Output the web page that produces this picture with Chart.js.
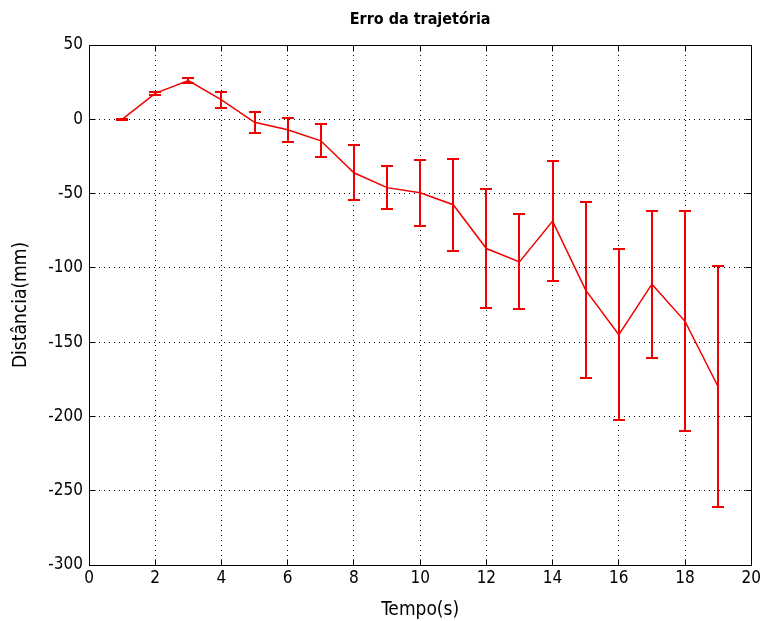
<!DOCTYPE html>
<html>
<head>
<meta charset="utf-8">
<title>Erro da trajetória</title>
<script src="https://cdn.jsdelivr.net/npm/chart.js@4.4.1/dist/chart.umd.min.js"></script>
<style>
  html, body { margin: 0; padding: 0; background: #fff; }
  canvas { display: block; }
</style>
</head>
<body>
<canvas id="grafico" width="764" height="621"></canvas>
<script>
// dados
const tempo = [1, 2, 3, 4, 5, 6, 7, 8, 9, 10, 11, 12, 13, 14, 15, 16, 17, 18, 19];
const distancia = [0, 17.5, 26, 13, -2, -7, -14.5, -36, -46, -49.5, -57.5, -87, -96, -68.5, -115, -145, -111, -136, -180];
const erro = [0.5, 1, 1.5, 5.5, 7, 8, 11, 18.5, 14.5, 22, 31, 40, 32, 40.5, 59, 57.5, 49.5, 74, 81];

const titulo = "Erro da trajetória";
const rotuloX = "Tempo(s)";
const rotuloY = "Distância(mm)";

const FONTE = "'DejaVu Sans Condensed', 'Liberation Sans Narrow', 'Liberation Sans', Arial, sans-serif";
const VERMELHO = "#f00000";

const alinhar = v => Math.floor(v) + 0.5;

// barras de erro com "chapéus"
const barrasErro = {
  id: "barrasErro",
  afterDatasetsDraw(chart) {
    const { ctx, scales: { x, y } } = chart;
    ctx.save();
    ctx.strokeStyle = VERMELHO;
    ctx.lineWidth = 2;
    for (let i = 0; i < tempo.length; i++) {
      const px = Math.round(x.getPixelForValue(tempo[i]));
      const topo = Math.round(y.getPixelForValue(distancia[i] + erro[i]));
      const base = Math.round(y.getPixelForValue(distancia[i] - erro[i]));
      ctx.beginPath();
      ctx.moveTo(px, topo);
      ctx.lineTo(px, base);
      ctx.moveTo(px - 6, topo);
      ctx.lineTo(px + 6, topo);
      ctx.moveTo(px - 6, base);
      ctx.lineTo(px + 6, base);
      ctx.stroke();
    }
    ctx.restore();
  }
};

// moldura, marcas internas e título
const moldura = {
  id: "moldura",
  afterDraw(chart) {
    const { ctx, chartArea: a, scales: { x, y } } = chart;
    ctx.save();
    ctx.strokeStyle = "#000";
    ctx.lineWidth = 1;
    const l = alinhar(a.left), r = alinhar(a.right);
    const t = alinhar(a.top), b = alinhar(a.bottom);
    ctx.strokeRect(l, t, r - l, b - t);
    ctx.beginPath();
    x.ticks.forEach(tk => {
      const px = alinhar(x.getPixelForValue(tk.value));
      ctx.moveTo(px, b); ctx.lineTo(px, b - 6);
      ctx.moveTo(px, t); ctx.lineTo(px, t + 6);
    });
    y.ticks.forEach(tk => {
      const py = alinhar(y.getPixelForValue(tk.value));
      ctx.moveTo(l, py); ctx.lineTo(l + 6, py);
      ctx.moveTo(r, py); ctx.lineTo(r - 6, py);
    });
    ctx.stroke();

    ctx.fillStyle = "#000";
    ctx.font = "bold 16px " + FONTE;
    ctx.textAlign = "center";
    ctx.textBaseline = "middle";
    ctx.fillText(titulo, (a.left + a.right) / 2, 20);
    ctx.restore();
  }
};

new Chart(document.getElementById("grafico"), {
  type: "line",
  data: {
    datasets: [{
      data: tempo.map((t, i) => ({ x: t, y: distancia[i] })),
      borderColor: VERMELHO,
      borderWidth: 1.5,
      pointRadius: 0,
      tension: 0,
      fill: false
    }]
  },
  options: {
    responsive: false,
    animation: false,
    events: [],
    layout: { padding: { top: 45, right: 11, left: 0, bottom: 0 } },
    plugins: {
      legend: { display: false },
      tooltip: { enabled: false }
    },
    scales: {
      x: {
        type: "linear",
        min: 0,
        max: 20,
        ticks: { stepSize: 2, color: "#000", font: { family: FONTE, size: 17 }, padding: 3, maxRotation: 0 },
        grid: { color: "#000", drawTicks: false },
        border: { display: false, dash: [1, 4] },
        title: { display: true, text: rotuloX, color: "#000", font: { family: FONTE, size: 19 }, padding: { top: 4, bottom: 0 } },
        afterFit(scale) { scale.height = 56; }
      },
      y: {
        min: -300,
        max: 50,
        ticks: { stepSize: 50, color: "#000", font: { family: FONTE, size: 17 }, padding: 6 },
        grid: { color: "#000", drawTicks: false },
        border: { display: false, dash: [1, 4] },
        title: { display: true, text: rotuloY, color: "#000", font: { family: FONTE, size: 19 }, padding: { top: 10, bottom: 0 } },
        afterFit(scale) { scale.width = 89; }
      }
    }
  },
  plugins: [barrasErro, moldura]
});
</script>
</body>
</html>
